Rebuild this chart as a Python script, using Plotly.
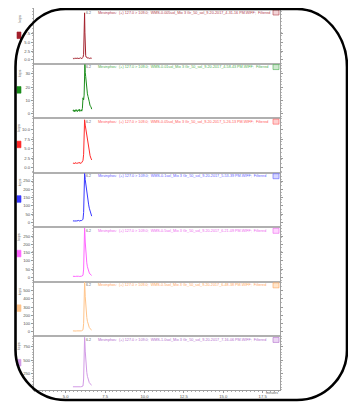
import plotly.graph_objects as go

# page body has an 8px margin: figure is sized to fit the 356x406 window
OFF = 8
W, H = 356 - OFF, 406 - OFF

# ---------------- data ----------------
time_min = [5.46, 5.50, 5.54, 5.58, 5.62, 5.66, 5.70, 5.74, 5.78, 5.82, 5.86, 5.90, 5.94, 5.98,
            6.02, 6.06, 6.10, 6.14, 6.17, 6.20, 6.22, 6.24, 6.27, 6.30, 6.34, 6.38, 6.42, 6.46,
            6.50, 6.55, 6.60, 6.65]

int_p1 = [0.45, 0.30, 0.55, 0.35, 0.50, 0.28, 0.48, 0.40, 0.58, 0.33, 0.52, 0.38, 0.60, 0.42,
          0.35, 0.55, 0.70, 1.6, 6.5, 13.6, 8.0, 2.5, 1.2, 0.8, 0.6, 0.5, 0.45, 0.55, 0.4, 0.5, 0.35, 0.45]
int_p2 = [2.1, 3.0, 1.5, 2.8, 1.9, 3.2, 2.2, 1.6, 2.9, 2.4, 3.5, 1.8, 2.6, 3.1, 2.0, 4.0, 12.0,
          10.5, 14.0, 30.0, 37.0, 31.0, 28.0, 22.0, 20.0, 15.0, 13.0, 9.5, 9.0, 6.0, 5.5, 3.5]
int_p3 = [1.1, 1.3, 1.2, 1.0, 1.3, 1.2, 1.1, 1.3, 1.2, 1.2, 1.4, 1.1, 1.3, 1.2, 1.3, 1.5, 1.9,
          3.5, 8.0, 12.6, 12.0, 11.2, 10.3, 9.5, 8.3, 7.1, 6.0, 5.0, 4.0, 3.1, 2.5, 2.0]
int_p4 = [9, 11, 10, 8, 12, 10, 9, 11, 10, 12, 9, 11, 10, 12, 11, 14, 20, 60, 170, 295, 285, 258,
          232, 206, 180, 155, 130, 106, 86, 65, 50, 38]
int_p5 = [6, 5, 7, 6, 5, 6, 7, 5, 6, 6, 5, 7, 6, 6, 7, 8, 12, 50, 170, 300, 270, 215, 160, 120,
          88, 64, 47, 35, 26, 19, 14, 11]
int_p6 = [12, 10, 13, 11, 12, 10, 12, 11, 13, 12, 11, 12, 13, 12, 14, 16, 25, 100, 340, 600, 540,
          430, 320, 240, 175, 128, 94, 70, 52, 38, 29, 22]
int_p7 = [5, 4, 6, 5, 4, 6, 5, 4, 5, 5, 6, 4, 5, 5, 6, 8, 20, 150, 520, 925, 840, 670, 500, 370,
          275, 200, 150, 110, 82, 61, 46, 35]

sample_names = [
    "WMS-0.005sol_Mix 3 Gr_50_sol_9-20-2017_4-31-16 PM.WIFF",
    "WMS-0.01sol_Mix 3 Gr_50_sol_9-20-2017_4-58-43 PM.WIFF",
    "WMS-0.05sol_Mix 3 Gr_50_sol_9-20-2017_5-26-13 PM.WIFF",
    "WMS-0.1sol_Mix 3 Gr_50_sol_9-20-2017_5-53-39 PM.WIFF",
    "WMS-0.5sol_Mix 3 Gr_50_sol_9-20-2017_6-21-09 PM.WIFF",
    "WMS-0.5sol_Mix 3 Gr_50_sol_9-20-2017_6-48-38 PM.WIFF",
    "WMS-1.0sol_Mix 3 Gr_50_sol_9-20-2017_7-16-06 PM.WIFF",
]
compound = "Mevinphos:  (+) 127.0 > 109.0;  "
peak_rt_label = "6.2"

y_ticks_p1 = [0, 2.5, 5.0, 7.5]
y_ticks_p2 = [0, 10, 20, 30]
y_ticks_p3 = [0, 2.5, 5.0, 7.5, 10.0]
y_ticks_p4 = [0, 50, 100, 150, 200, 250]
y_ticks_p5 = [0, 50, 100, 150, 200, 250]
y_ticks_p6 = [0, 100, 200, 300, 400, 500]
y_ticks_p7 = [250, 500, 750]

y_tick_text_p1 = ["0.0", "2.5", "5.0", "7.5"]
y_tick_text_p2 = ["0", "10", "20", "30"]
y_tick_text_p3 = ["0.0", "2.5", "5.0", "7.5", "10.0"]
y_tick_text_p4 = ["0", "50", "100", "150", "200", "250"]
y_tick_text_p5 = ["0", "50", "100", "150", "200", "250"]
y_tick_text_p6 = ["0", "100", "200", "300", "400", "500"]
y_tick_text_p7 = ["250", "500", "750"]

x_ticks = [5.0, 7.5, 10.0, 12.5, 15.0, 17.5]
x_tick_text = ["5.0", "7.5", "10.0", "12.5", "15.0", "17.5"]

# ---------------- styling / layout config ----------------
series = [int_p1, int_p2, int_p3, int_p4, int_p5, int_p6, int_p7]
yticks = [y_ticks_p1, y_ticks_p2, y_ticks_p3, y_ticks_p4, y_ticks_p5, y_ticks_p6, y_ticks_p7]
yticktext = [y_tick_text_p1, y_tick_text_p2, y_tick_text_p3, y_tick_text_p4, y_tick_text_p5,
             y_tick_text_p6, y_tick_text_p7]
y_ranges = [[-0.8, 15.0], [-2.5, 38.5], [-1.1, 13.3], [-23, 306], [-22, 311], [-43, 616], [-55, 962]]
line_colors = ["#a31f2b", "#1a8c1a", "#ff2a2a", "#3838ff", "#ff66ff", "#ffc48a", "#d29ae6"]
text_colors = ["#b0404c", "#4caf50", "#ff5a5a", "#6060ff", "#ee66ee", "#ffa55a", "#b06ccc"]
box_fill = ["#f3d3d6", "#cfe9cf", "#ffd0d0", "#d6d6ff", "#ffd6ff", "#ffe6cc", "#ecd6f3"]

FONT = "Liberation Sans, Arial, sans-serif"


def px_x(p):
    # p in screenshot pixels
    return (p - OFF) / W


def px_y(p):
    return 1 - (p - OFF) / H


def clamp(v):
    return min(1.0, max(0.0, v))


plot_left, plot_right = 34, 280
panel_top0, panel_bottom_last = 8.0, 390.0
n = 7
ph = (panel_bottom_last - panel_top0) / n
x_range = [2.99, 18.6]

fig = go.Figure()
layout_axes = {}
annotations = []
shapes = []

for i in range(n):
    k = i + 1
    top = panel_top0 + i * ph
    bot = top + ph
    xname = "x" if k == 1 else f"x{k}"
    yname = "y" if k == 1 else f"y{k}"
    fig.add_trace(go.Scatter(
        x=time_min, y=series[i], mode="lines",
        line=dict(color=line_colors[i], width=1.0),
        xaxis=xname, yaxis=yname, hoverinfo="skip"))
    last = (i == n - 1)
    layout_axes["xaxis" if k == 1 else f"xaxis{k}"] = dict(
        domain=[clamp(px_x(plot_left)), clamp(px_x(plot_right))], anchor=yname, range=x_range,
        showgrid=False, zeroline=False, showline=True,
        linecolor="#9c9c9c" if last else "#b0b0b0", linewidth=1.2 if last else 1.8,
        showticklabels=last, ticks="outside" if last else "", ticklen=2, tickcolor="#999",
        tickvals=x_ticks, ticktext=x_tick_text,
        tickfont=dict(size=4.2, color="#555", family=FONT),
        minor=dict(ticks="outside" if last else "", dtick=0.25, ticklen=1, tickcolor="#aaa"),
        fixedrange=True)
    layout_axes["yaxis" if k == 1 else f"yaxis{k}"] = dict(
        domain=[clamp(px_y(bot)), clamp(px_y(top))], anchor=xname, range=y_ranges[i],
        showgrid=False, zeroline=False, showline=True, linecolor="#a0a0a0", linewidth=1,
        mirror="ticks", ticks="outside", ticklen=2, tickcolor="#999",
        tickvals=yticks[i], ticktext=yticktext[i],
        tickfont=dict(size=4.2, color="#555", family=FONT),
        minor=dict(ticks="outside", nticks=5, ticklen=1, tickcolor="#bbb"),
        fixedrange=True)

    annotations.append(dict(
        x=px_x(96), y=px_y(top + 4.5), xref="paper", yref="paper",
        xanchor="left", yanchor="middle", showarrow=False,
        text=compound + sample_names[i] + ";  Filtered",
        font=dict(size=3.72, color=text_colors[i], family=FONT)))
    annotations.append(dict(
        x=px_x(88), y=px_y(top + 4.5), xref="paper", yref="paper",
        xanchor="center", yanchor="middle", showarrow=False, text=peak_rt_label,
        font=dict(size=3.6, color="#666", family=FONT)))
    annotations.append(dict(
        x=px_x(19.5), y=px_y(top + 11), xref="paper", yref="paper",
        xanchor="center", yanchor="middle", showarrow=False, text="kcps", textangle=-90,
        font=dict(size=3.6, color="#555", family=FONT)))
    cy = (top + bot) / 2
    shapes.append(dict(type="rect", xref="paper", yref="paper",
                       x0=px_x(17), x1=px_x(21), y0=px_y(cy + 3.3), y1=px_y(cy - 3.3),
                       fillcolor=line_colors[i], line=dict(color=line_colors[i], width=0.6)))
    shapes.append(dict(type="rect", xref="paper", yref="paper",
                       x0=px_x(273), x1=px_x(279), y0=px_y(top + 7), y1=px_y(top + 2),
                       fillcolor=box_fill[i], line=dict(color=text_colors[i], width=0.6)))

annotations.append(dict(
    x=px_x(280), y=px_y(393), xref="paper", yref="paper", xanchor="right", yanchor="middle",
    showarrow=False, text="minutes", font=dict(size=3.4, color="#555", family=FONT)))

# rounded outer frame
L, R, T, B = 15.5, 347, 9, 400
rxt, ryt, rxb, ryb = 50, 58, 50, 50
c = 0.552


def P(xp, yp):
    return f"{px_x(xp):.5f},{px_y(yp):.5f}"


path = (
    f"M {P(L + rxt, T)} L {P(R - rxt, T)} "
    f"C {P(R - rxt + c * rxt, T)} {P(R, T + ryt - c * ryt)} {P(R, T + ryt)} "
    f"L {P(R, B - ryb)} "
    f"C {P(R, B - ryb + c * ryb)} {P(R - rxb + c * rxb, B)} {P(R - rxb, B)} "
    f"L {P(L + rxb, B)} "
    f"C {P(L + rxb - c * rxb, B)} {P(L, B - ryb + c * ryb)} {P(L, B - ryb)} "
    f"L {P(L, T + ryt)} "
    f"C {P(L, T + ryt - c * ryt)} {P(L + rxt - c * rxt, T)} {P(L + rxt, T)} Z"
)
shapes.append(dict(type="path", xref="paper", yref="paper", path=path,
                   line=dict(color="black", width=2.6), fillcolor="rgba(0,0,0,0)", layer="above"))

fig.update_layout(
    width=W, height=H, margin=dict(l=0, r=0, t=0, b=0),
    paper_bgcolor="white", plot_bgcolor="white", showlegend=False,
    annotations=annotations, shapes=shapes, **layout_axes)

fig.write_html("out.html")
